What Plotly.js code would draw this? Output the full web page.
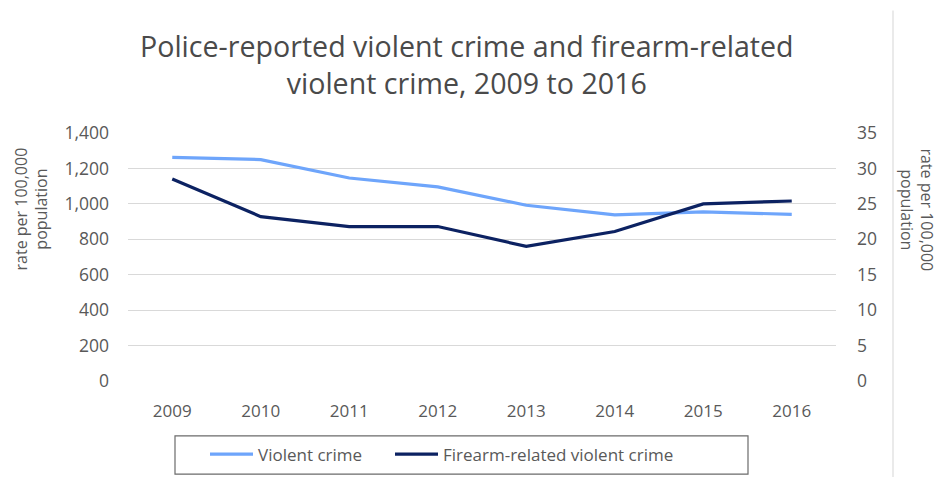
<!DOCTYPE html>
<html>
<head>
<meta charset="utf-8">
<script src="https://cdn.plot.ly/plotly-3.0.1.min.js"></script>
<style>html,body{margin:0;padding:0;background:#fff;}#chart{width:940px;height:484px;}</style>
</head>
<body>
<div id="chart"></div>
<script>
const years = ['2009','2010','2011','2012','2013','2014','2015','2016'];
const violentCrime = [1262, 1250, 1146, 1096, 992, 938, 955, 941];
const firearmCrime = [28.5, 23.2, 21.8, 21.8, 19.0, 21.1, 25.0, 25.4];
const leftTicks = [0, 200, 400, 600, 800, 1000, 1200, 1400];
const rightTicks = [0, 5, 10, 15, 20, 25, 30, 35];
const seriesNames = ['Violent crime', 'Firearm-related violent crime'];
const axisTitle = 'rate per 100,000<br>population';
const chartTitle = 'Police-reported violent crime and firearm-related<br>violent crime, 2009 to 2016';

const FONT = 'Open Sans, Noto Sans, sans-serif';
const L = 128, R = 836, T = 133, B = 386;
const W = R - L, H = B - T;
const px = v => (v - L) / W;
const py = v => (B - v) / H;

const data = [
  {x: years, y: violentCrime, name: seriesNames[0], type: 'scatter', mode: 'lines',
   line: {color: '#6ea5fb', width: 3.2}, yaxis: 'y', legend: 'legend'},
  {x: years, y: firearmCrime, name: seriesNames[1], type: 'scatter', mode: 'lines',
   line: {color: '#0c2262', width: 3.2}, yaxis: 'y2', legend: 'legend2'}
];
const legendBase = {orientation: 'h', xanchor: 'left', y: py(461), yanchor: 'middle',
  font: {size: 17, color: '#595959'}, itemwidth: 43, bgcolor: 'rgba(0,0,0,0)', borderwidth: 0};
const layout = {
  width: 940, height: 484,
  margin: {l: L, r: 940 - R, t: T, b: 484 - B},
  paper_bgcolor: '#ffffff', plot_bgcolor: '#ffffff',
  font: {family: FONT, color: '#595959', size: 18},
  xaxis: {type: 'category', range: [-0.5, 7.5], showgrid: false, zeroline: false, showline: false,
          ticks: '', tickfont: {size: 17, color: '#595959'}, ticklabelstandoff: 18},
  yaxis: {range: [0, 1400], tickvals: leftTicks, tickformat: ',', showgrid: true,
          gridcolor: '#d9d9d9', gridwidth: 1, zeroline: false, showline: false,
          tickfont: {size: 17.5, color: '#595959'}, ticklabelstandoff: 18},
  yaxis2: {range: [0, 35], tickvals: rightTicks, overlaying: 'y', side: 'right',
           showgrid: false, zeroline: false, showline: false,
           tickfont: {size: 17.5, color: '#595959'}, ticklabelstandoff: 20},
  showlegend: true,
  legend: Object.assign({}, legendBase, {x: px(205)}),
  legend2: Object.assign({}, legendBase, {x: px(390)}),
  annotations: [
    {text: chartTitle, xref: 'paper', yref: 'paper', x: px(466.5), y: py(63),
     xanchor: 'center', yanchor: 'middle', showarrow: false,
     font: {family: FONT, size: 28.6, color: '#4a4a4a'}},
    {text: axisTitle, xref: 'paper', yref: 'paper', x: px(31), y: py(211),
     xanchor: 'center', yanchor: 'middle', textangle: -90, showarrow: false,
     font: {size: 16, color: '#595959'}},
    {text: axisTitle, xref: 'paper', yref: 'paper', x: px(917), y: py(212),
     xanchor: 'center', yanchor: 'middle', textangle: 90, showarrow: false,
     font: {size: 16, color: '#595959'}}
  ],
  shapes: [
    {type: 'rect', xref: 'paper', yref: 'paper', x0: px(175), x1: px(748),
     y0: py(442), y1: py(481), line: {color: '#6b6b6b', width: 1.2}},
    {type: 'line', xref: 'paper', yref: 'paper', x0: px(893), x1: px(893),
     y0: py(8), y1: py(484), line: {color: '#e3e3e3', width: 1.5}}
  ]
};
Plotly.newPlot('chart', data, layout, {displayModeBar: false, staticPlot: true});
</script>
</body>
</html>
